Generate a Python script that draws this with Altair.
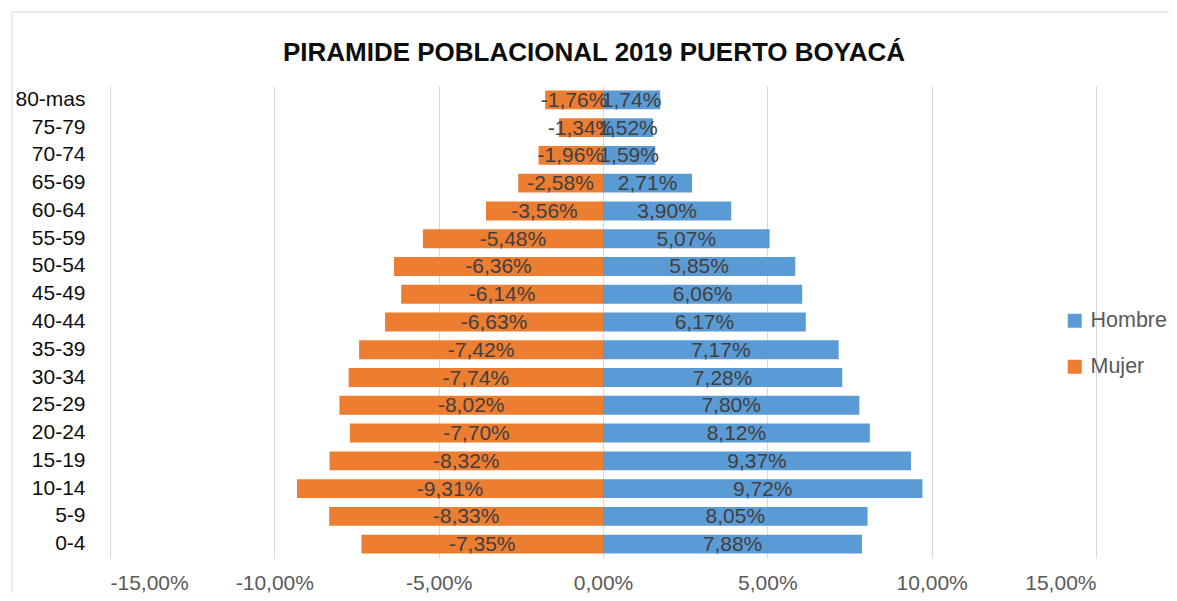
import altair as alt
import pandas as pd

ages = ["0-4", "5-9", "10-14", "15-19", "20-24", "25-29", "30-34", "35-39", "40-44",
        "45-49", "50-54", "55-59", "60-64", "65-69", "70-74", "75-79", "80-mas"]
hombre = [7.88, 8.05, 9.72, 9.37, 8.12, 7.80, 7.28, 7.17, 6.17, 6.06, 5.85, 5.07, 3.90, 2.71, 1.59, 1.52, 1.74]
mujer = [-7.35, -8.33, -9.31, -8.32, -7.70, -8.02, -7.74, -7.42, -6.63, -6.14, -6.36, -5.48, -3.56, -2.58, -1.96, -1.34, -1.76]
series = ["Hombre", "Mujer"]
colors = ["#5B9BD5", "#ED7D31"]
x_ticks = [-15, -10, -5, 0, 5, 10, 15]
title = "PIRAMIDE POBLACIONAL 2019 PUERTO BOYACÁ"

rows = []
for a, h, m in zip(ages, hombre, mujer):
    rows.append({"edad": a, "sexo": "Hombre", "valor": h})
    rows.append({"edad": a, "sexo": "Mujer", "valor": m})
df = pd.DataFrame(rows)

FONT = "Liberation Sans"
PCT = "(datum.value < 0 ? '-' : '') + replace(format(abs(datum.value), '.2f'), '.', ',') + '%'"

x_axis = alt.Axis(title=None, values=x_ticks, domain=False, ticks=False,
                  grid=True, gridColor="#d9d9d9", gridWidth=1,
                  labelFontSize=21, labelColor="#595959", labelPadding=14,
                  labelFont=FONT, labelExpr=PCT)
x_scale = alt.Scale(domain=[-15, 15], nice=False)
y_sort = list(reversed(ages))
y_axis = alt.Axis(title=None, domain=False, ticks=False, labelFontSize=21,
                  labelColor="#0d0d0d", labelPadding=25, labelFont=FONT)
y_scale = alt.Scale(paddingInner=0.32, paddingOuter=0.16)

base = alt.Chart(df)

bars = base.mark_bar().encode(
    x=alt.X("valor:Q", scale=x_scale, axis=x_axis),
    x2=alt.datum(0),
    y=alt.Y("edad:N", sort=y_sort, scale=y_scale, axis=y_axis),
    color=alt.Color("sexo:N", scale=alt.Scale(domain=series, range=colors),
                    legend=alt.Legend(title=None, orient="none", legendX=954, legendY=224,
                                      symbolType="square", symbolSize=196, symbolStrokeWidth=0,
                                      labelFontSize=21.5, labelColor="#595959", labelFont=FONT,
                                      rowPadding=23, labelOffset=5)),
)

labels = base.transform_calculate(
    mid="datum.valor / 2",
    txt="(datum.valor < 0 ? '-' : '') + replace(format(abs(datum.valor), '.2f'), '.', ',') + '%'",
).mark_text(fontSize=21, color="#404040", font=FONT, baseline="middle", dy=1).encode(
    x=alt.X("mid:Q", scale=x_scale, axis=x_axis),
    y=alt.Y("edad:N", sort=y_sort, scale=y_scale, axis=y_axis),
    text="txt:N",
)

title_df = pd.DataFrame({"t": [title]})
title_mark = alt.Chart(title_df).mark_text(
    fontSize=26, font=FONT, fontWeight="bold", color="#0d0d0d", align="center", baseline="alphabetic"
).encode(x=alt.value(484), y=alt.value(-25), text="t:N")

border = alt.Chart(pd.DataFrame({"k": [0]})).mark_rect(fill="transparent", stroke="#d9d9d9", strokeWidth=1).encode(
    x=alt.value(-98), x2=alt.value(1100), y=alt.value(-74), y2=alt.value(600)
)

chart = alt.layer(border, bars, labels, title_mark).properties(
    width=986, height=472,
    autosize=alt.AutoSizeParams(type="none"),
    padding={"left": 102, "top": 78, "right": 73, "bottom": 35},
).configure_view(stroke=None)

chart.save("out.html", embed_options={"renderer": "svg", "actions": False})
